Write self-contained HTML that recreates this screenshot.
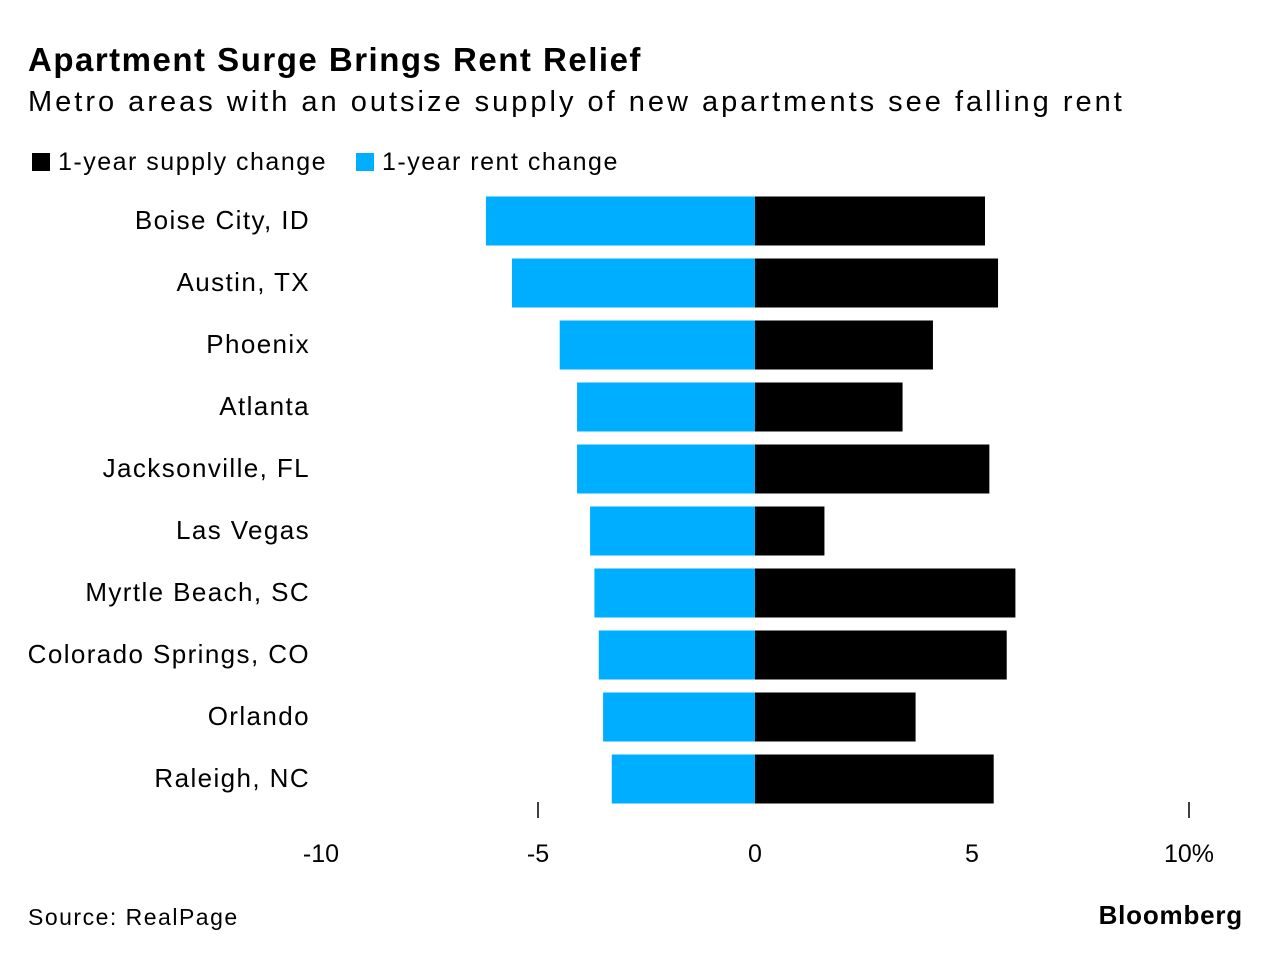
<!DOCTYPE html>
<html><head><meta charset="utf-8">
<style>
body{margin:0;background:#fff;font-family:"Liberation Sans",sans-serif;color:#000;}
#wrap{position:relative;width:1282px;height:960px;overflow:hidden;}
.t{position:absolute;white-space:nowrap;}
</style></head>
<body>
<div id="wrap">
<div class="t" style="left:28px;top:41px;font-size:33px;font-weight:bold;letter-spacing:1.5px">Apartment Surge Brings Rent Relief</div>
<div class="t" style="left:28px;top:86px;font-size:29px;letter-spacing:3px">Metro areas with an outsize supply of new apartments see falling rent</div>
<div class="t" style="left:32px;top:148px;font-size:25px;letter-spacing:1.5px"><span style="display:inline-block;width:18px;height:18px;background:#000;vertical-align:-1px;margin-right:8px"></span>1-year supply change</div>
<div class="t" style="left:356px;top:148px;font-size:25px;letter-spacing:1.5px"><span style="display:inline-block;width:18px;height:18px;background:#00aeff;vertical-align:-1px;margin-right:8px"></span>1-year rent change</div>
<svg id="chart" width="1282" height="960" style="position:absolute;left:0;top:0"></svg>
<div class="t" style="left:28px;top:904px;font-size:23px;letter-spacing:1.5px">Source: RealPage</div>
<div class="t" style="right:39px;top:900px;font-size:26px;font-weight:bold;letter-spacing:0.8px">Bloomberg</div>
</div>
<script>
const categories=["Boise City, ID","Austin, TX","Phoenix","Atlanta","Jacksonville, FL","Las Vegas","Myrtle Beach, SC","Colorado Springs, CO","Orlando","Raleigh, NC"];
const rentChange=[-6.2,-5.6,-4.5,-4.1,-4.1,-3.8,-3.7,-3.6,-3.5,-3.3];
const supplyChange=[5.3,5.6,4.1,3.4,5.4,1.6,6.0,5.8,3.7,5.5];
const tickValues=[-10,-5,0,5,10];
const tickLabels=["-10","-5","0","5","10%"];
const tickMarks=[-5,10];
const ns="http://www.w3.org/2000/svg";
const svg=document.getElementById('chart');
const x=v=>755+v*43.4;
const yc=i=>221+i*62;
const bh=49;
function el(tag,attrs){const e=document.createElementNS(ns,tag);for(const k in attrs)e.setAttribute(k,attrs[k]);svg.appendChild(e);return e;}
categories.forEach((c,i)=>{
  const t=el('text',{x:310,y:yc(i)+8,'text-anchor':'end','font-size':26,'letter-spacing':1.4,'font-family':'Liberation Sans, sans-serif'});
  t.textContent=c;
  
  
  const r=rentChange[i];
  const b1=el('rect',{x:Math.min(x(0),x(r)),y:yc(i)-bh/2,width:Math.abs(x(r)-x(0)),height:bh,fill:'#00aeff'});
  
  
  const s=supplyChange[i];
  const b2=el('rect',{x:Math.min(x(0),x(s)),y:yc(i)-bh/2,width:Math.abs(x(s)-x(0)),height:bh,fill:'#000'});
  
  
});
tickMarks.forEach(v=>{
  const l=el('line',{x1:x(v),x2:x(v),y1:802,y2:818,stroke:'#000','stroke-width':1.5});
  
  
});
tickValues.forEach((v,i)=>{
  const t=el('text',{x:x(v),y:862,'text-anchor':'middle','font-size':25,'font-family':'Liberation Sans, sans-serif'});
  t.textContent=tickLabels[i];
  
  
});
</script>
</body></html>
